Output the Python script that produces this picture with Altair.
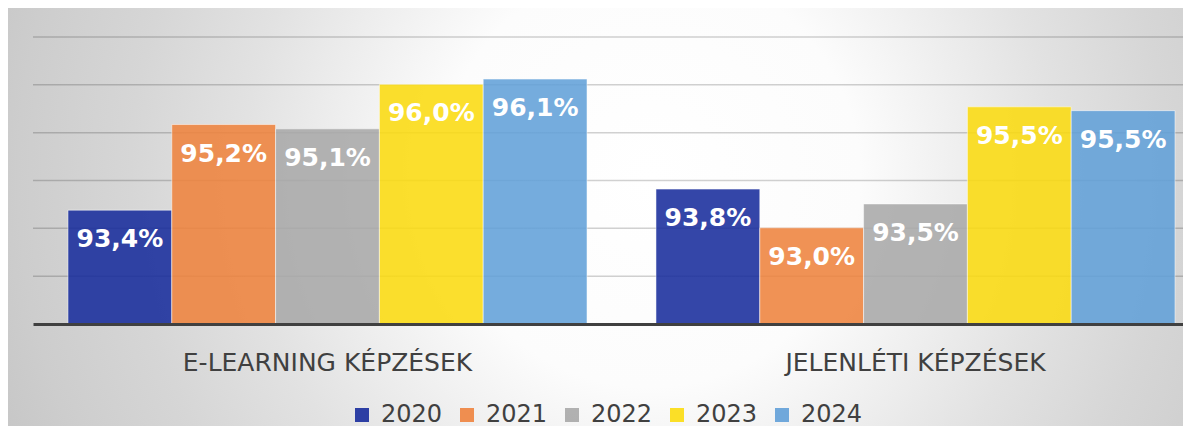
import altair as alt
import pandas as pd

categories = ["E-LEARNING KÉPZÉSEK", "JELENLÉTI KÉPZÉSEK"]
years = ["2020", "2021", "2022", "2023", "2024"]
elearning = [93.38, 95.17, 95.08, 96.01, 96.12]
jelenleti = [93.82, 93.01, 93.51, 95.54, 95.46]
colors = ["#182C9C", "#EE833E", "#A9A9A9", "#FBDB10", "#62A0D8"]
y_ticks = [92, 93, 94, 95, 96, 97]

rows = []
for cat, vals in zip(categories, [elearning, jelenleti]):
    for yr, v in zip(years, vals):
        rows.append({"cat": cat, "year": yr, "value": v,
                     "label": f"{v:.1f}".replace(".", ",") + "%"})
df = pd.DataFrame(rows)
grid_df = pd.DataFrame({"tick": y_ticks})

PLOT_W = 1150
RANGE_W = 1177

x_scale = alt.Scale(paddingInner=0.1173, paddingOuter=0.0595, range=[0, RANGE_W])
x_enc = alt.X("cat:N", sort=categories, title=None, scale=x_scale,
              axis=alt.Axis(labelAngle=0, labelFontSize=25, labelColor="#404040",
                            labelFont="DejaVu Sans", ticks=False, tickSize=0,
                            labelPadding=26, labelLimit=0, domainColor="#404040",
                            domainWidth=3, grid=False, zindex=1))
y_scale = alt.Scale(domain=[91, 97], zero=False, nice=False)
xoff = alt.XOffset("year:N", sort=years, scale=alt.Scale(paddingInner=0, paddingOuter=0))

bg = alt.Chart(pd.DataFrame({"a": [0]})).mark_rect(
    color={
        "gradient": "radial",
        "x1": 0.537, "y1": 0.47, "r1": 0,
        "x2": 0.537, "y2": 0.47, "r2": 0.58,
        "stops": [
            {"offset": 0, "color": "#ffffff"},
            {"offset": 0.3, "color": "#fcfcfc"},
            {"offset": 0.58, "color": "#e2e2e2"},
            {"offset": 0.74, "color": "#d6d6d6"},
            {"offset": 0.9, "color": "#cdcdcd"},
            {"offset": 1, "color": "#c6c6c6"},
        ],
    }
).encode(x=alt.value(-33), x2=alt.value(RANGE_W), y=alt.value(-37), y2=alt.value(389))

grid = alt.Chart(grid_df).mark_rule(color="#000000", opacity=0.18, strokeWidth=1.5).encode(
    y=alt.Y("tick:Q", scale=y_scale, title=None,
            axis=alt.Axis(labels=False, ticks=False, domain=False, grid=False)),
    x=alt.value(0), x2=alt.value(RANGE_W),
)

bars = alt.Chart(df).mark_bar(
    fillOpacity=0.88, stroke="white", strokeWidth=1, strokeOpacity=0.5
).encode(
    x=x_enc,
    xOffset=xoff,
    y=alt.Y("value:Q", scale=y_scale, title=None,
            axis=alt.Axis(labels=False, ticks=False, domain=False, grid=False)),
    y2=alt.datum(91),
    color=alt.Color("year:N", sort=years,
                    scale=alt.Scale(domain=years, range=colors),
                    legend=alt.Legend(orient="none", legendX=317, legendY=366,
                                      direction="horizontal", title=None,
                                      symbolType="square", symbolSize=196,
                                      symbolStrokeWidth=0, symbolOpacity=0.9,
                                      labelFontSize=24, labelColor="#404040",
                                      labelFont="DejaVu Sans", labelOffset=7,
                                      columnPadding=12, padding=0)),
)

text = alt.Chart(df).mark_text(
    color="white", font="DejaVu Sans", fontWeight="bold", fontSize=25,
    baseline="alphabetic", align="center", dy=37
).encode(
    x=alt.X("cat:N", sort=categories, scale=x_scale),
    xOffset=xoff,
    y=alt.Y("value:Q", scale=y_scale),
    text="label:N",
)

chart = alt.layer(bg, grid, bars, text).properties(
    width=PLOT_W, height=287,
    autosize=alt.AutoSizeParams(type="none"),
    padding={"left": 25, "top": 29, "right": 0, "bottom": 102},
).configure_view(stroke=None).configure(background="#d0d0d0")

chart.save("out.html", embed_options={"renderer": "svg", "actions": False})
